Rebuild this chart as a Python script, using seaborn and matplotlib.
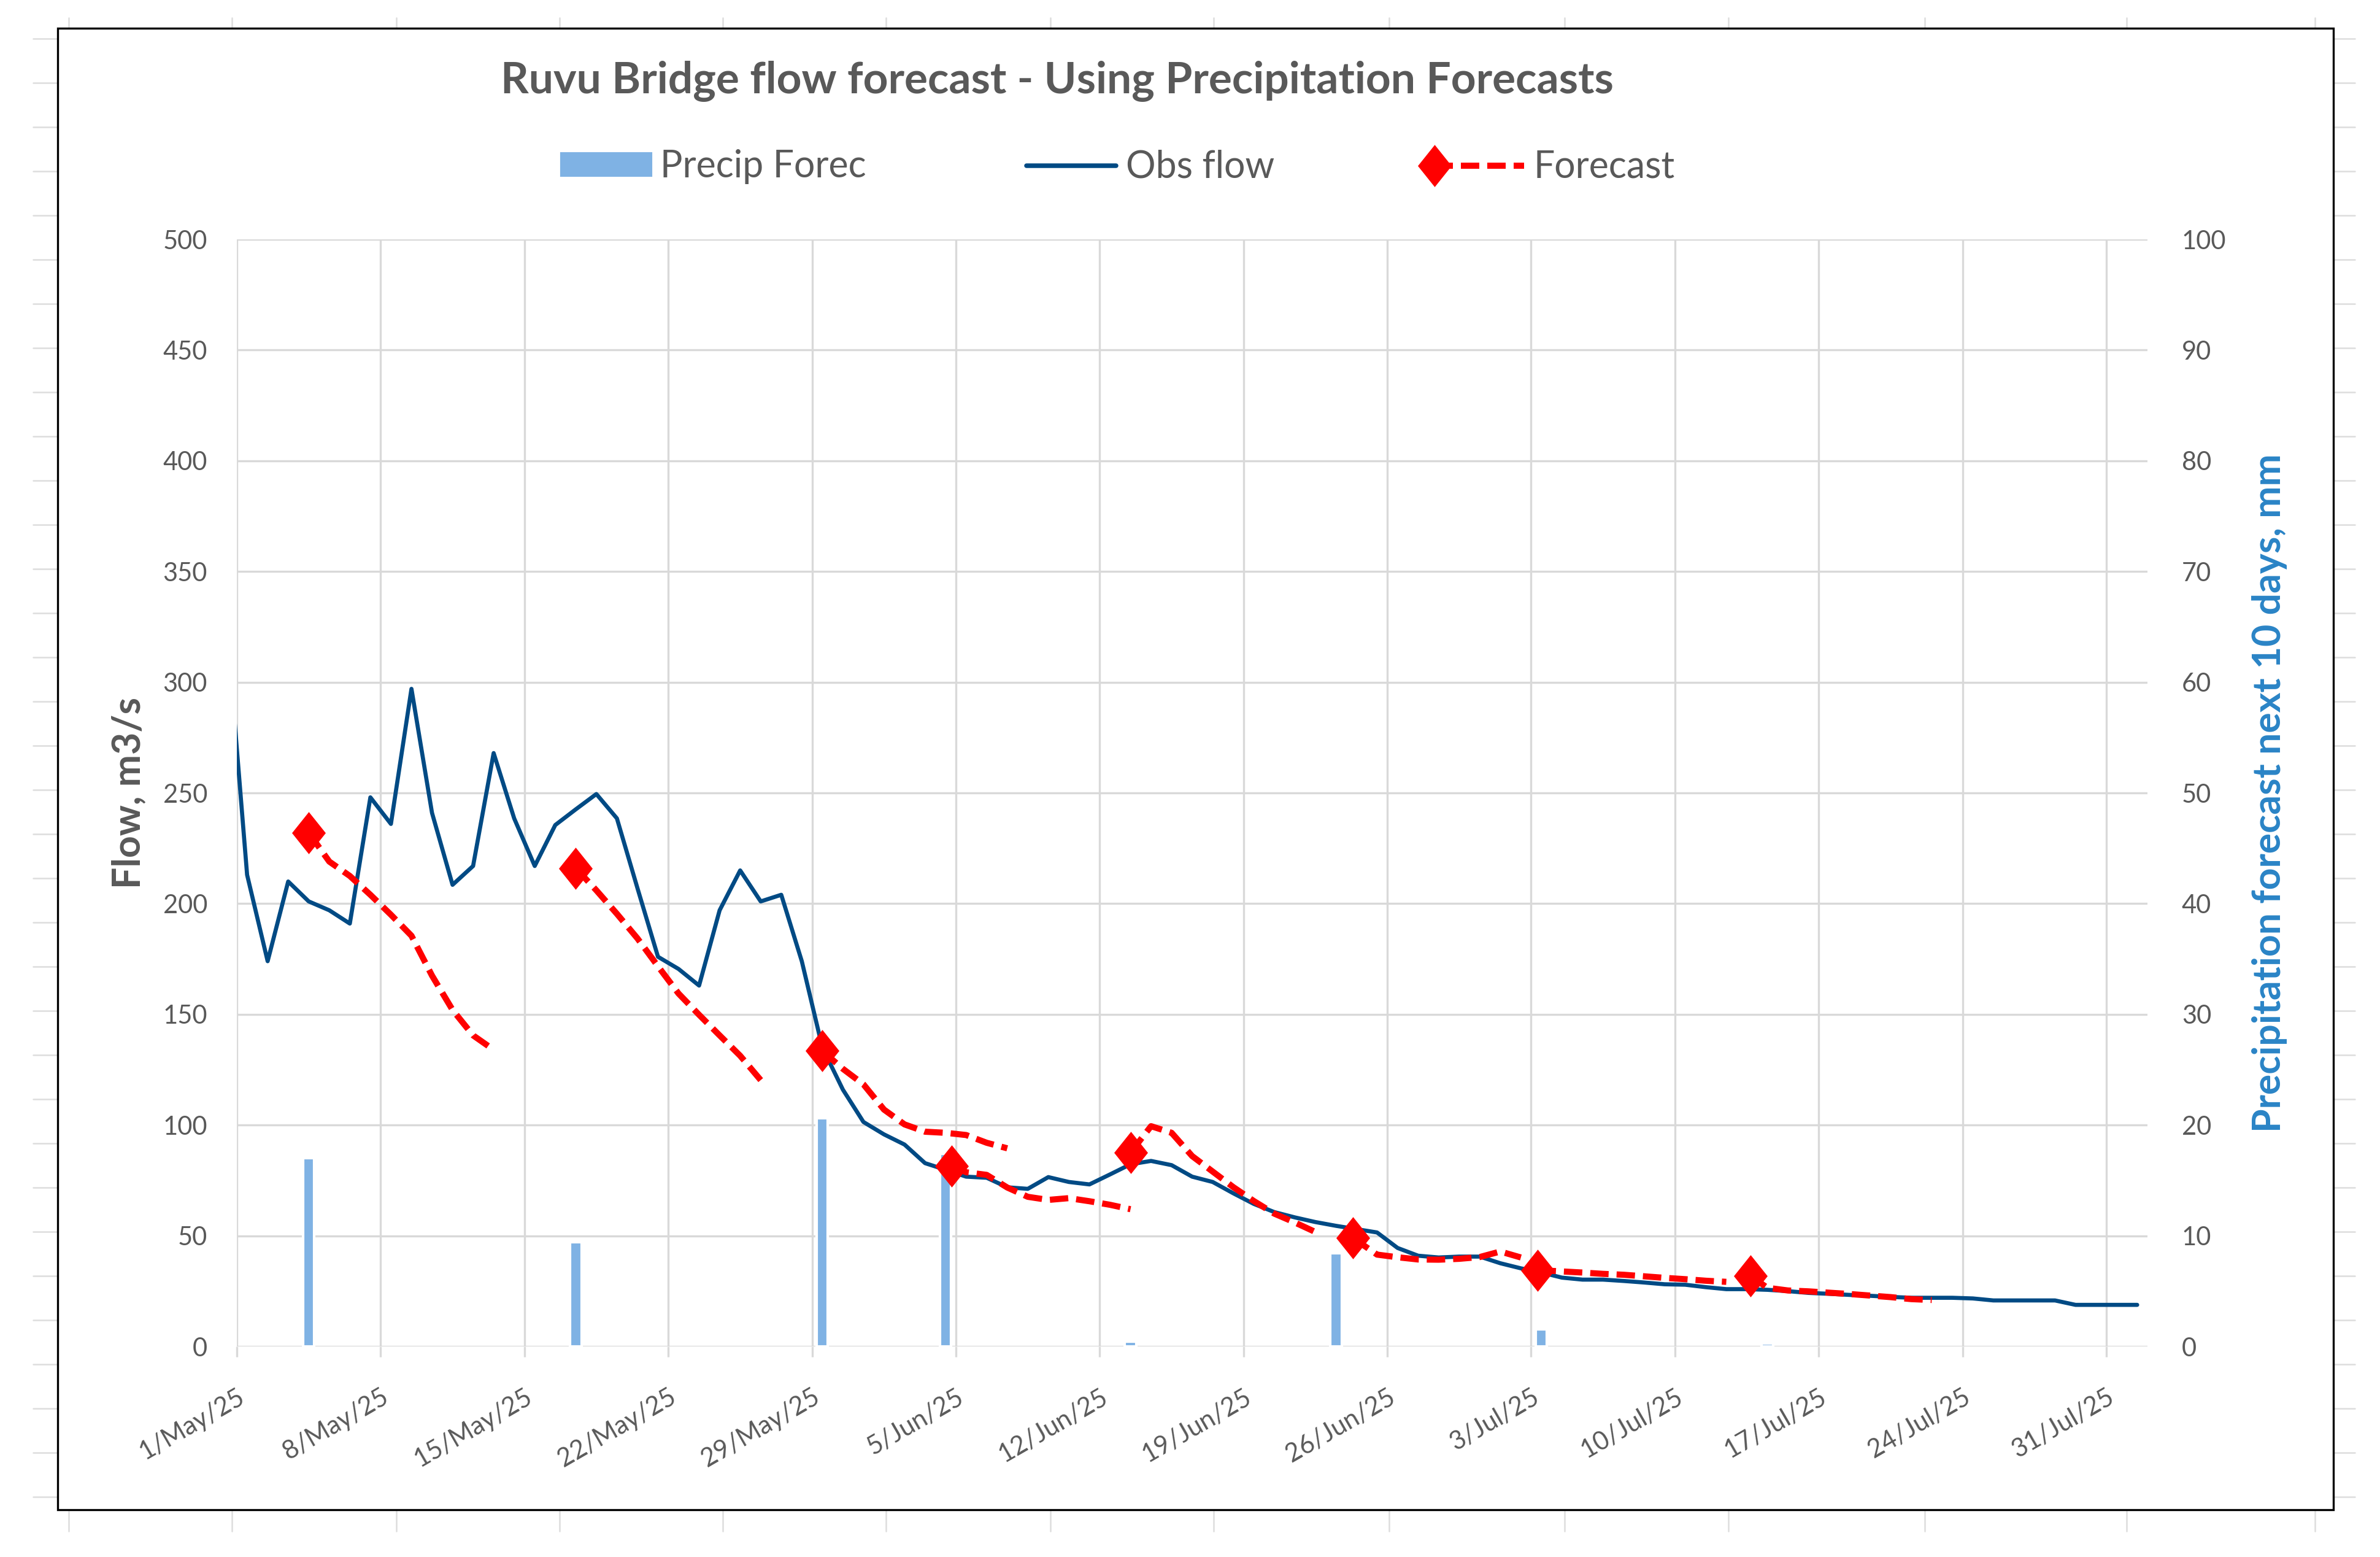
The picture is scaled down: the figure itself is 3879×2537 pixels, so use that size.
"""Ruvu Bridge flow forecast: observed flow, 10-day flow forecasts and precipitation forecast."""

import matplotlib.pyplot as plt
import pandas as pd
import seaborn as sns
from matplotlib.legend_handler import HandlerLine2D
from matplotlib.lines import Line2D
from matplotlib.patches import Patch, Rectangle
from matplotlib.transforms import ScaledTranslation

# observed daily flow, m3/s, 30 Apr .. 1 Aug 2025 (30 Apr only shows as the line entering the axis)
obs_start = "2025-04-30"
obs_flow = [
    327,
    # May
    213, 174, 210, 201, 197, 191, 248, 236, 297, 241,
    208.5, 217, 268, 238.5, 217, 235.5, 242.6, 249.5, 238.5, 207,
    176, 170.5, 163, 197, 215, 201, 204, 174, 135, 116, 101.4,
    # Jun
    95.8, 91.2, 82.8, 79.8, 76.7, 76.2, 71.9, 71.2, 76.5, 74.3,
    73.2, 77.7, 82.3, 83.8, 81.9, 76.7, 74.3, 69.2, 64.4, 60.7,
    58.3, 56.2, 54.5, 53, 51.5, 44.5, 41, 40.2, 40.6, 40.6,
    # Jul
    37.6, 35.3, 33.4, 31.1, 30.2, 30.2, 29.6, 28.9, 28.1, 27.9,
    26.8, 25.9, 25.9, 25.6, 25, 24.2, 23.8, 23.3, 22.9, 22.4,
    22, 22, 22, 21.7, 20.8, 20.8, 20.8, 20.8, 18.8, 18.8, 18.8,
    # Aug
    18.8,
]

# forecast runs: issue time, then one value per day
fc_issue = [
    "2025-05-04 12:00", "2025-05-17 12:00", "2025-05-29 12:00", "2025-06-04 19:00",
    "2025-06-13 12:00", "2025-06-24 08:00", "2025-07-03 07:30", "2025-07-13 16:00",
]
fc_flow = [
    [232, 219, 212.5, 204, 195, 185.5, 167.5, 152, 140.5, 134],
    [216, 206, 195.4, 184.3, 171.7, 159.4, 149.8, 140.5, 131.3, 120.3],
    [133.5, 125.4, 118.4, 107, 100.3, 97, 96.5, 95.5, 92, 89.5],
    [81.5, 78.7, 77.5, 71.8, 67.6, 66.2, 67, 65.6, 64, 62],
    [87.6, 99.5, 96.5, 86, 79, 72, 65.7, 60, 56, 51.7],
    [49, 41.5, 40.3, 39.3, 39.2, 39.6, 40.4, 42.9, 40.2],
    [34.5, 33.9, 33.4, 32.8, 32.4, 31.7, 31, 30.4, 29.7, 29.2],
    [31.9, 26.5, 25.3, 24.9, 24.3, 23.7, 23, 22.3, 21.4, 21],
]

# precipitation forecast for the next 10 days, mm
precip_dates = [
    "2025-05-04", "2025-05-17", "2025-05-29", "2025-06-04",
    "2025-06-13", "2025-06-23", "2025-07-03", "2025-07-14",
]
precip_mm = [17, 9.4, 20.6, 17.4, 0.45, 8.4, 1.55, 0.3]

TITLE = "Ruvu Bridge flow forecast - Using Precipitation Forecasts"

W, H = 3879, 2537
GREY = "#595959"
GRID = "#D9D9D9"
BAR = "#7FB2E4"
OBS = "#004A84"
FC = "#FF0000"
BLUE_LABEL = "#2A84C6"
DIAMOND = [(0, 0.5), (0.4, 0), (0, -0.5), (-0.4, 0), (0, 0.5)]


class FirstMarker(HandlerLine2D):
    # legend line with the marker on its left end, like Excel does
    def create_artists(self, *args, **kwargs):
        artists = super().create_artists(*args, **kwargs)
        artists[0].set_markevery([0])
        return artists


def fx(x):
    return x / W


def fy(y):
    return 1 - y / H


def build_frames():
    obs = pd.DataFrame({
        "time": pd.date_range(obs_start, periods=len(obs_flow), freq="D") + pd.Timedelta(hours=12),
        "flow": obs_flow,
    })
    rows = []
    for run, (issue, values) in enumerate(zip(fc_issue, fc_flow)):
        t0 = pd.Timestamp(issue)
        times = [t0] + [t0.normalize() + pd.Timedelta(days=n, hours=12) for n in range(1, len(values))]
        rows += [{"run": run, "time": t, "flow": v} for t, v in zip(times, values)]
    fc = pd.DataFrame(rows)
    precip = pd.DataFrame({
        "time": pd.to_datetime(precip_dates) + pd.Timedelta(hours=12),
        "mm": precip_mm,
    })
    return obs, fc, precip


def draw_sheet(fig):
    # the spreadsheet cells peeking out round the chart
    cols = [112, 378, 646, 912, 1178, 1444, 1712, 1978, 2264, 2550, 2817, 3137, 3466, 3773]
    rows = [62.7 + 72 * k for k in range(34)]
    kw = dict(transform=fig.transFigure, color="#DDDDDD", lw=0.6, zorder=1)
    for x in cols:
        fig.add_artist(Line2D([fx(x), fx(x)], [fy(29), fy(45)], **kw))
        fig.add_artist(Line2D([fx(x), fx(x)], [fy(2462), fy(2495)], **kw))
    for y in rows:
        fig.add_artist(Line2D([fx(54), fx(93)], [fy(y), fy(y)], **kw))
        fig.add_artist(Line2D([fx(3805), fx(3838)], [fy(y), fy(y)], **kw))
    fig.add_artist(Rectangle((fx(94), fy(2460)), fx(3803) - fx(94), fy(46) - fy(2460),
                             transform=fig.transFigure, fill=False, ec="black", lw=0.8, zorder=10))


def plot_chart():
    obs, fc, precip = build_frames()

    sns.set_theme(style="white")
    plt.rcParams["font.family"] = ["Lato", "DejaVu Sans"]

    fig = plt.figure(figsize=(W / 300, H / 300), dpi=300)
    ax_p = fig.add_axes([fx(386), fy(2194), fx(3500) - fx(386), fy(390) - fy(2194)])
    ax_f = ax_p.twinx()

    # precipitation bars on the back axis (right scale)
    ax_p.bar(precip["time"], precip["mm"], width=0.55, color=BAR, zorder=2)

    # flows on the front axis (left scale)
    sns.lineplot(data=obs, x="time", y="flow", ax=ax_f, color=OBS, lw=1.6, zorder=3)
    sns.lineplot(data=fc, x="time", y="flow", units="run", estimator=None, ax=ax_f,
                 color=FC, lw=2.4, ls=(0, (3, 1.3)), dash_capstyle="butt", zorder=4)
    first = fc.groupby("run").first()
    sns.scatterplot(data=first, x="time", y="flow", ax=ax_f, marker=DIAMOND, s=272,
                    color=FC, linewidth=0, zorder=5)

    ax_f.set_ylim(0, 500)
    ax_p.set_ylim(0, 100)
    ax_f.set_yticks(range(0, 501, 50))
    ax_p.set_yticks(range(0, 101, 10))
    ax_p.yaxis.tick_right()
    ax_p.yaxis.set_label_position("right")
    ax_f.yaxis.tick_left()
    ax_f.yaxis.set_label_position("left")

    tick_dates = pd.date_range("2025-05-01", "2025-07-31", freq="7D")
    ax_p.set_xticks(tick_dates)
    ax_p.set_xticklabels([f"{d.day}/{d:%b}/{d:%y}" for d in tick_dates],
                         rotation=30, ha="right", rotation_mode="anchor")
    shift = ScaledTranslation(30 / 300, 0, fig.dpi_scale_trans)
    for lab in ax_p.get_xticklabels():
        lab.set_transform(lab.get_transform() + shift)

    ax_p.grid(True, color=GRID, lw=0.8)
    ax_p.set_axisbelow(True)
    ax_f.grid(False)
    for a in (ax_p, ax_f):
        for s in a.spines.values():
            s.set_visible(False)
    ax_p.tick_params(axis="x", bottom=True, length=4, width=0.8, color=GRID,
                     labelsize=10, labelcolor=GREY, pad=11)
    ax_p.tick_params(axis="y", length=0, labelsize=10, labelcolor=GREY, pad=13.4)
    ax_f.tick_params(axis="y", length=0, labelsize=10, labelcolor=GREY, pad=11.5)

    ax_p.set_xlabel("")
    ax_f.set_xlabel("")
    ax_f.set_ylabel("Flow, m3/s", fontsize=15, fontweight="bold", color=GREY, va="center")
    ax_f.yaxis.set_label_coords(-0.0562, 0.5)
    ax_p.set_ylabel("Precipitation forecast next 10 days, mm", fontsize=15, fontweight="bold",
                    color=BLUE_LABEL, va="center", rotation=90)
    ax_p.yaxis.set_label_coords(1.064, 0.5)
    ax_p.set_xlim(pd.Timestamp("2025-05-01"), pd.Timestamp("2025-08-02"))

    fig.text(fx(816), fy(151.7), TITLE, fontsize=17.1, fontweight="bold", color=GREY,
             ha="left", va="baseline")

    fc_handle = Line2D([], [], color=FC, lw=2.4, ls=(0, (3, 1.3)), marker=DIAMOND,
                       markersize=16.5, markeredgewidth=0)
    handles = [Patch(color=BAR), Line2D([], [], color=OBS, lw=1.8), fc_handle]
    leg = fig.legend(handles, ["Precip Forec", "Obs flow", "Forecast"], loc="center left",
                     bbox_to_anchor=(fx(915), fy(272)), ncol=3, frameon=False, fontsize=14.6,
                     handlelength=2.4, handleheight=0.55, handletextpad=0.25,
                     columnspacing=4.3, borderpad=0, borderaxespad=0,
                     handler_map={fc_handle: FirstMarker()})
    for t in leg.get_texts():
        t.set_color(GREY)

    draw_sheet(fig)
    fig.savefig("out.png", dpi=300)
    plt.close(fig)


if __name__ == "__main__":
    plot_chart()
